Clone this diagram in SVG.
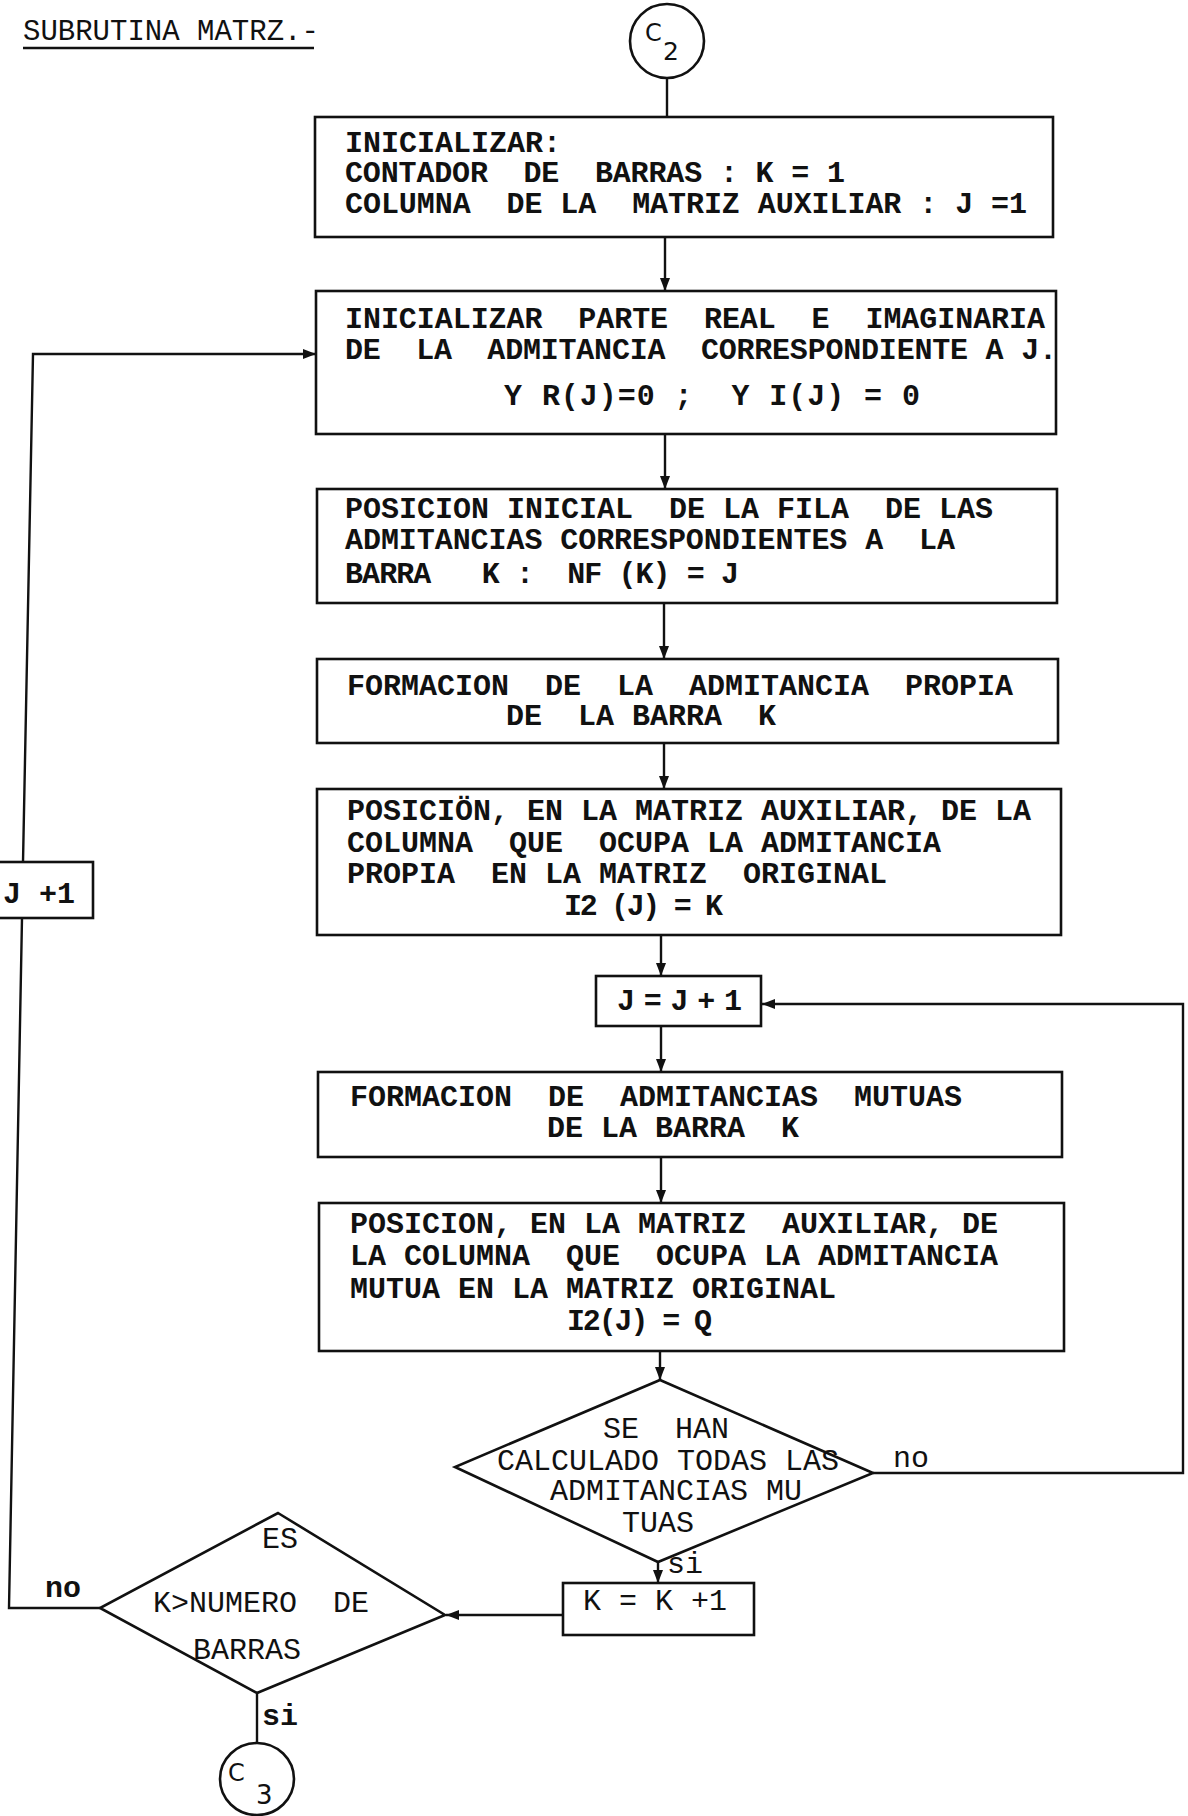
<svg xmlns="http://www.w3.org/2000/svg" width="1188" height="1816" viewBox="0 0 1188 1816">
<style>
.bg{fill:#fff}
.box{fill:none;stroke:#111;stroke-width:2.6}
.ln{fill:none;stroke:#111;stroke-width:2.4}
.t{font-family:"Liberation Mono","Courier New",monospace;font-size:30px;font-weight:bold;fill:#111;white-space:pre}
.n{font-weight:normal}
.c{font-family:"DejaVu Sans","Liberation Sans",sans-serif;fill:#111}
</style>
<defs>
<marker id="ah" markerUnits="userSpaceOnUse" markerWidth="14" markerHeight="10" refX="13" refY="5" orient="auto">
<path d="M0,0 L13,5 L0,10 z" fill="#111"/>
</marker>
</defs>
<rect class="bg" x="0" y="0" width="1188" height="1816"/>

<g id="title">
<text class="t n" x="23" y="40" style="font-size:29px" xml:space="preserve">SUBRUTINA MATRZ.-</text>
<line x1="23" y1="48" x2="314" y2="48" stroke="#111" stroke-width="2.4"/>
</g>

<g id="c2">
<circle cx="667" cy="41" r="37" class="box"/>
<text class="c" x="645" y="41" font-size="24">C</text>
<text class="c" x="663" y="60" font-size="25">2</text>
</g>

<g id="box1">
<rect class="box" x="315" y="117" width="738" height="120"/>
<text class="t" x="345" y="152" xml:space="preserve">INICIALIZAR:</text>
<text class="t" x="345" y="182" xml:space="preserve" textLength="500" lengthAdjust="spacing">CONTADOR  DE  BARRAS : K = 1</text>
<text class="t" x="345" y="213" xml:space="preserve" textLength="682" lengthAdjust="spacing">COLUMNA  DE LA  MATRIZ AUXILIAR : J =1</text>
</g>

<g id="box2">
<rect class="box" x="316" y="291" width="740" height="143"/>
<text class="t" x="345" y="328" xml:space="preserve" textLength="700" lengthAdjust="spacing">INICIALIZAR  PARTE  REAL  E  IMAGINARIA</text>
<text class="t" x="345" y="359" xml:space="preserve" textLength="712" lengthAdjust="spacing">DE  LA  ADMITANCIA  CORRESPONDIENTE A J.</text>
<text class="t" x="504" y="405" xml:space="preserve" textLength="416" lengthAdjust="spacing">Y R(J)=0 ;  Y I(J) = 0</text>
</g>

<g id="box3">
<rect class="box" x="317" y="489" width="740" height="114"/>
<text class="t" x="345" y="518" xml:space="preserve">POSICION INICIAL  DE LA FILA  DE LAS</text>
<text class="t" x="345" y="549" xml:space="preserve" textLength="610" lengthAdjust="spacing">ADMITANCIAS CORRESPONDIENTES A  LA</text>
<text class="t" x="345" y="583" xml:space="preserve" textLength="394" lengthAdjust="spacing">BARRA   K :  NF (K) = J</text>
</g>

<g id="box4">
<rect class="box" x="317" y="659" width="741" height="84"/>
<text class="t" x="347" y="695" xml:space="preserve">FORMACION  DE  LA  ADMITANCIA  PROPIA</text>
<text class="t" x="506" y="725" xml:space="preserve">DE  LA BARRA  K</text>
</g>

<g id="box5">
<rect class="box" x="317" y="789" width="744" height="146"/>
<text class="t" x="347" y="820" xml:space="preserve">POSICIÖN, EN LA MATRIZ AUXILIAR, DE LA</text>
<text class="t" x="347" y="852" xml:space="preserve">COLUMNA  QUE  OCUPA LA ADMITANCIA</text>
<text class="t" x="347" y="883" xml:space="preserve">PROPIA  EN LA MATRIZ  ORIGINAL</text>
<text class="t" x="564" y="915" xml:space="preserve" textLength="159" lengthAdjust="spacing">I2 (J) = K</text>
</g>

<g id="boxJ">
<rect class="box" x="596" y="976" width="165" height="50"/>
<text class="t" x="617" y="1010" xml:space="preserve" textLength="125" lengthAdjust="spacing">J = J + 1</text>
</g>

<g id="box6">
<rect class="box" x="318" y="1072" width="744" height="85"/>
<text class="t" x="350" y="1106" xml:space="preserve">FORMACION  DE  ADMITANCIAS  MUTUAS</text>
<text class="t" x="547" y="1137" xml:space="preserve">DE LA BARRA  K</text>
</g>

<g id="box7">
<rect class="box" x="319" y="1203" width="745" height="148"/>
<text class="t" x="350" y="1233" xml:space="preserve">POSICION, EN LA MATRIZ  AUXILIAR, DE</text>
<text class="t" x="350" y="1265" xml:space="preserve">LA COLUMNA  QUE  OCUPA LA ADMITANCIA</text>
<text class="t" x="350" y="1298" xml:space="preserve">MUTUA EN LA MATRIZ ORIGINAL</text>
<text class="t" x="567" y="1330" xml:space="preserve" textLength="145" lengthAdjust="spacing">I2(J) = Q</text>
</g>

<g id="dec1">
<polygon class="box" points="660,1380 873,1473 658,1562 455,1467"/>
<text class="t n" x="603" y="1438" xml:space="preserve">SE  HAN</text>
<text class="t n" x="497" y="1470" xml:space="preserve">CALCULADO TODAS LAS</text>
<text class="t n" x="550" y="1500" xml:space="preserve">ADMITANCIAS MU</text>
<text class="t n" x="622" y="1532" xml:space="preserve">TUAS</text>
</g>

<g id="boxK">
<rect class="box" x="563" y="1583" width="191" height="52"/>
<text class="t n" x="583" y="1610" xml:space="preserve">K = K +1</text>
</g>

<g id="dec2">
<polygon class="box" points="278,1513 445,1615 257,1693 100,1608"/>
<text class="t n" x="262" y="1548" xml:space="preserve">ES</text>
<text class="t n" x="153" y="1612" xml:space="preserve">K&gt;NUMERO  DE</text>
<text class="t n" x="193" y="1659" xml:space="preserve">BARRAS</text>
</g>

<g id="boxJ1">
<rect class="box" x="-2" y="862" width="95" height="56"/>
<text class="t" x="3" y="903" xml:space="preserve">J +1</text>
</g>

<g id="c3">
<ellipse cx="257" cy="1779" rx="37" ry="36" class="box"/>
<text class="c" x="228" y="1781" font-size="24">C</text>
<text class="c" x="256" y="1804" font-size="26">3</text>
</g>

<g id="connectors">
<line class="ln" x1="667" y1="78" x2="667" y2="117"/>
<line class="ln" x1="665" y1="237" x2="665" y2="291" marker-end="url(#ah)"/>
<line class="ln" x1="665" y1="434" x2="665" y2="489" marker-end="url(#ah)"/>
<line class="ln" x1="664" y1="603" x2="664" y2="659" marker-end="url(#ah)"/>
<line class="ln" x1="664" y1="743" x2="664" y2="789" marker-end="url(#ah)"/>
<line class="ln" x1="661" y1="935" x2="661" y2="976" marker-end="url(#ah)"/>
<line class="ln" x1="661" y1="1026" x2="661" y2="1072" marker-end="url(#ah)"/>
<line class="ln" x1="661" y1="1157" x2="661" y2="1203" marker-end="url(#ah)"/>
<line class="ln" x1="660" y1="1351" x2="660" y2="1380" marker-end="url(#ah)"/>
<polyline class="ln" points="873,1473 1183,1473 1183,1004 762,1004" marker-end="url(#ah)"/>
<line class="ln" x1="658" y1="1562" x2="658" y2="1583" marker-end="url(#ah)"/>
<line class="ln" x1="563" y1="1615" x2="446" y2="1615" marker-end="url(#ah)"/>
<polyline class="ln" points="100,1608 9,1608 22,918"/>
<polyline class="ln" points="23,862 33,354 316,354" marker-end="url(#ah)"/>
<line class="ln" x1="257" y1="1693" x2="257" y2="1743"/>
<text class="t n" x="893" y="1467">no</text>
<text class="t n" x="667" y="1573">si</text>
<text class="t" x="45" y="1597">no</text>
<text class="t" x="262" y="1725">si</text>
</g>
</svg>
